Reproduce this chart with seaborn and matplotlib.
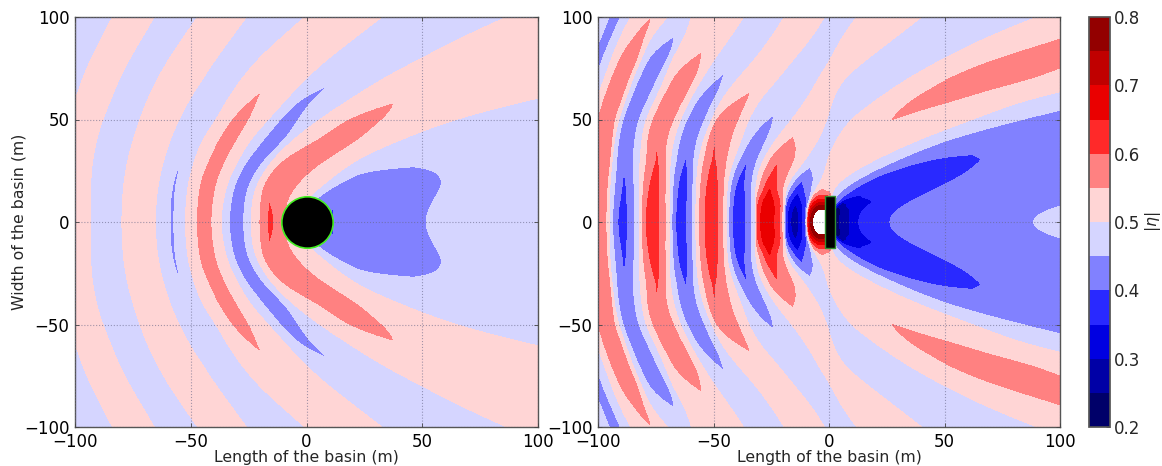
import numpy as np
import matplotlib
matplotlib.use('Agg')
import matplotlib.pyplot as plt
from matplotlib.patches import Rectangle
import seaborn as sns

levels = [0.2, 0.25, 0.3, 0.35, 0.4, 0.45, 0.5, 0.55, 0.6, 0.65, 0.7, 0.75, 0.8]
cbar_ticks = [0.2, 0.3, 0.4, 0.5, 0.6, 0.7, 0.8]
axis_ticks = [-100, -50, 0, 50, 100]

# distance from the centre line (upper half, the field is mirrored)
rows_y = [0, 5, 10, 15, 20, 25, 30, 40, 50, 60, 70, 80, 90, 100]

# left panel: x of each crest, trough and 0.5 crossing along every row
left_x = [
    [-150, -110, -102, -93.5, -86.5, -79.8, -72.5, -65.3, -58, -52.3, -44, -37, -30.3, -23.9, -15.5, -6, -3, 11, 51, 600],
    [-150, -110, -102, -93.5, -86.5, -79.7, -72.4, -65.2, -58, -52.2, -44, -36.8, -30, -23.8, -15.5, -4, -1, 10, 52, 600],
    [-150, -110, -102, -93.5, -86.4, -79.5, -72.2, -65, -57.9, -52, -43.6, -36, -29.5, -23.5, -16.6, -1, 2, 10, 54.4, 600],
    [-150, -110, -101.5, -93.4, -86, -79.2, -71.8, -64.5, -57.6, -51.5, -43, -35.2, -29, -22.5, -16, 3.5, 8, 25, 57.3, 600],
    [-150, -109, -101, -93.2, -85.6, -78.8, -71.3, -63.9, -56.8, -50.9, -42.5, -34, -27.5, -20.8, -15, 9, 16, 35, 60, 600],
    [-150, -109, -101, -92.9, -85, -78.1, -70.6, -62.9, -55.5, -49.7, -40.5, -32, -25, -18, -10.8, 15, 25, 42, 57, 600],
    [-150, -108, -100, -92.5, -84.8, -77.3, -69.6, -61.8, -54.5, -48.4, -38.5, -29.6, -22.2, -15, -6.5, 20, 35, 50, 70, 600],
    [-150, -106, -98, -90.8, -82.8, -74.9, -67, -59, -52, -45.1, -34, -24.6, -13, -6, 12.4, 40, 60, 80, 100, 600],
    [-150, -103, -95, -88.1, -80, -72, -63.6, -55.2, -47, -39, -29, -16.6, -9, 5.5, 20.7, 63, 90, 110, 130, 600],
    [-150, -99.7, -92, -84.5, -76.5, -68.6, -59.6, -50.6, -42, -34, -22.5, -8.7, -1.7, 19, 42, 97, 120, 140, 160, 600],
    [-150, -96.8, -89, -80.9, -72.6, -64.3, -54.6, -44.8, -36, -28, -14, -0.5, 15, 33, 70, 140, 160, 180, 200, 600],
    [-150, -92.9, -85, -76.3, -67.8, -59.2, -49, -39, -30, -20.5, -6, 9.5, 30, 50, 110, 200, 220, 240, 260, 600],
    [-150, -88.4, -80, -71, -62, -53.2, -43, -32.5, -21, -10.8, 4, 21, 44, 67, 150, 280, 300, 320, 340, 600],
    [-150, -83.8, -75, -65.8, -56.4, -47, -36.5, -26, -13, -0.7, 15, 32.5, 58, 86.5, 200, 380, 400, 420, 440, 600],
]

# left panel: field values on the columns that change along the row
left_streak = [.443, .443, .443, .444, .445, .447, .452, .47, .47, .47, .47, .47, .47, .47]
left_lobe1 = [.58, .58, .58, .58, .58, .578, .576, .576, .57, .553, .54, .53, .52, .51]
left_trough = [.405, .405, .405, .405, .405, .404, .403, .403, .424, .439, .455, .47, .47, .47]
left_lobe3 = [.612, .606, .598, .597, .597, .597, .597, .577, .5645, .545, .535, .525, .515, .51]
left_edge = [.45, .45, .45, .45, .45, .45, .47, .47, .47, .47, .47, .47, .47, .47]
left_wake = [.3985, .3985, .402, .42, .43, .44, .465, .47, .47, .47, .47, .47, .47, .47]
left_back = [.45, .45, .45, .45, .45, .454, .47, .47, .47, .47, .47, .47, .47, .47]

# right panel: x of each crest, trough and crossing along every row
right_x = [
    [-125, -120, -112, -98.5, -95.2, -89.5, -82.1, -77, -69.1, -64.5, -57.6, -51, -44.6, -39.5, -32, -27.5, -19.8, -15, -9.7, -5.2, 0, .8, 1, 1.2, 1.35, 1.5, 4.5, 12.7, 24.2, 84.4],
    [-125, -120, -112, -98.5, -95.2, -89.5, -82.1, -77, -69.1, -64.4, -57.6, -51, -44.5, -39.5, -32, -27.5, -19.7, -15, -9.6, -5.2, 0, .8, 1, 1.2, 1.35, 1.5, 4.5, 12.5, 27, 90],
    [-125, -120, -111, -98.4, -95.1, -89.2, -82.1, -76.5, -69.1, -64, -57.6, -50.8, -44.4, -39.5, -32, -26.5, -19.5, -14.5, -8.8, -4.5, -1, .5, .8, 1, 1.2, 1.5, 6, 16, 34.5, 103],
    [-125, -120, -110, -98, -95, -88.8, -82.1, -76, -69.1, -63.5, -57.5, -50.6, -44.2, -39, -31.8, -26, -19, -14, -6.5, -4, -1, 1, 4, 10, 14, 20, 24, 32, 44, 130],
    [-125, -120, -109, -97.5, -94.8, -88.5, -82.1, -75.5, -69.1, -63, -57.3, -50.5, -44, -38.5, -31.5, -25, -18, -12.5, -3, -1.5, .5, 3.5, 11, 15.5, 19, 28, 34, 44, 54, 150],
    [-125, -120, -108.5, -97, -94.3, -89, -82, -74.8, -69, -62.5, -57, -50.2, -43, -37, -30.5, -23.5, -14, -9.5, -1.5, 2, 6, 11, 19, 25, 30, 40, 46, 54, 61, 170],
    [-125, -120, -108, -96.5, -93.9, -89.3, -81.8, -74, -68.8, -62, -56.6, -50, -41.5, -35.5, -28.7, -22.6, -10.5, -6, -1, 6, 10, 19, 29, 43, 48, 55, 58, 62, 66, 190],
    [-125, -120, -106, -95.5, -93, -88.5, -81.1, -75.5, -67.4, -61.5, -54.4, -49.5, -38, -31, -23.3, -16.5, -4.5, -1, 3, 18, 22, 38, 50, 70, 75, 80, 85, 90, 95, 210],
    [-115, -110, -104, -95.6, -91.2, -87, -79.5, -72, -64.5, -58, -50.8, -46.6, -35, -25.5, -16, -10, -.8, 4, 9, 26, 30, 62, 83, 105, 110, 115, 120, 125, 130, 250],
    [-113, -108, -100.5, -92.7, -88, -83, -75, -67.5, -60.2, -53.5, -46.5, -36.5, -30, -19, -9.5, -4, 1.5, 11, 21, 43, 47, 85, 120, 140, 145, 150, 155, 160, 165, 300],
    [-108, -103, -97.3, -89.6, -85, -78.8, -71, -63, -55, -47, -39.5, -29, -22, -13, -4.6, 1, 6, 20, 34, 63, 68, 125, 160, 180, 185, 190, 195, 200, 205, 350],
    [-105.5, -100.5, -94.1, -85.5, -81.1, -73.4, -67.7, -56.5, -49.4, -41, -31.5, -23, -15, -7, 1, 8, 17, 33, 50, 82, 90, 170, 200, 220, 225, 230, 235, 240, 245, 400],
    [-101.5, -96.5, -90.5, -82, -77.5, -66.7, -62.3, -52, -42.9, -35, -25, -16, -7.5, -1, 5.5, 17, 28.6, 48, 68, 121, 130, 230, 260, 280, 285, 290, 295, 300, 305, 450],
    [-98, -93, -85.9, -77, -70, -65, -59.5, -48, -37, -28, -19.3, -10.5, -2, 5, 12, 25, 40, 65, 90, 150, 160, 300, 330, 350, 355, 360, 365, 370, 375, 500],
]

# right panel: field values on the crest and trough columns
right_t0 = [.42, .42, .42, .42, .42, .42, .42, .42, .42, .42, .42, .42, .42, .42]
right_c0 = [.597, .597, .597, .597, .597, .597, .597, .595, .59, .598, .598, .592, .565, .548]
right_t1 = [.364, .368, .378, .385, .392, .4, .403, .403, .4035, .4035, .4035, .402, .45, .47]
right_c1 = [.648, .647, .64, .633, .625, .615, .602, .597, .597, .597, .59, .555, .53, .52]
right_t2 = [.352, .352, .355, .36, .365, .38, .397, .405, .405, .415, .445, .46, .47, .47]
right_c2 = [.648, .648, .645, .64, .63, .62, .605, .597, .595, .557, .53, .52, .52, .52]
right_t3 = [.345, .345, .35, .36, .375, .388, .4, .42, .445, .47, .47, .47, .47, .47]
right_c3 = [.695, .695, .685, .655, .63, .605, .595, .552, .53, .525, .52, .52, .52, .52]
right_t4 = [.262, .27, .31, .355, .4, .44, .47, .48, .485, .485, .48, .47, .47, .47]
right_c4a = [.9, .84, .68, .55, .52, .52, .52, .535, .55, .565, .572, .565, .568, .575]
right_c4b = [.9, .84, .68, .53, .52, .52, .52, .53, .545, .56, .568, .562, .565, .57]
right_q2 = [.4, .4, .4, .4, .4, .4, .4, .42, .43, .44, .46, .47, .47, .47]
right_q3 = [.35, .35, .35, .375, .39, .395, .395, .42, .43, .44, .46, .47, .47, .47]
right_q4 = [.15, .17, .32, .37, .38, .385, .392, .42, .43, .44, .46, .47, .47, .47]
right_q5 = [.25, .26, .335, .375, .385, .388, .395, .42, .43, .44, .46, .47, .47, .47]
right_q6 = [.35, .35, .35, .38, .39, .39, .398, .42, .43, .44, .46, .47, .47, .47]
right_q7 = [.4, .4, .4, .4, .4, .4, .403, .42, .43, .44, .46, .47, .47, .47]

# obstacles: cylinder seen from above (marker) and plate
plate_x = [-1.7, 2.6]
plate_y = [-12.7, 12.7]


def const(v):
    return [v] * len(rows_y)


def mirror(table):
    table = np.array(table, dtype=float)
    return np.vstack([table[:0:-1], table])


def round_crests(x, z, first, last, power=0.75, n=6):
    # rounder profile between a 0.5 crossing and its crest, flatter on the strong crests
    xs, zs = [x[:, 0]], [z[:, 0]]
    for j in range(x.shape[1] - 1):
        front_a = np.all(z[:, j] == 0.5)
        front_b = np.all(z[:, j + 1] == 0.5)
        if first <= j < last and (front_a or front_b):
            crest = z[:, j + 1] if front_a else z[:, j]
            pw = np.where(np.abs(crest - 0.5) > 0.17, 0.42, power)
            for i in range(1, n):
                t = i / n
                if front_a:
                    xs.append(x[:, j] + (x[:, j + 1] - x[:, j]) * t)
                    zs.append(z[:, j] + (z[:, j + 1] - z[:, j]) * t ** pw)
                else:
                    xs.append(x[:, j + 1] + (x[:, j] - x[:, j + 1]) * (1 - t))
                    zs.append(z[:, j + 1] + (z[:, j] - z[:, j + 1]) * (1 - t) ** pw)
        xs.append(x[:, j + 1])
        zs.append(z[:, j + 1])
    return np.column_stack(xs), np.column_stack(zs)


def smooth_rows(y, table, y_new, sigma):
    # put the rows on an even y step, then take out the wobble of hand reading
    out = np.zeros((len(y_new), table.shape[1]))
    for j in range(table.shape[1]):
        col = np.interp(y_new, y, table[:, j])
        # carry on in a straight line past the top and bottom rows
        over = y_new > y[-1]
        slope = (table[-1, j] - table[-2, j]) / (y[-1] - y[-2])
        col[over] = table[-1, j] + slope * (y_new[over] - y[-1])
        col[y_new < y[0]] = col[y_new > y[-1]][::-1]
        out[:, j] = col
    half = int(4 * sigma)
    kernel = np.exp(-0.5 * (np.arange(-half, half + 1) / sigma) ** 2)
    kernel /= kernel.sum()
    for j in range(out.shape[1]):
        pad = np.concatenate([np.full(half, out[0, j]), out[:, j], np.full(half, out[-1, j])])
        out[:, j] = np.convolve(pad, kernel, mode='valid')
    return out


left_z = np.column_stack([
    const(.47), const(.5), const(.53), const(.5), const(.47), const(.5), const(.53), const(.5),
    left_streak, const(.5), left_lobe1, const(.5), left_trough, const(.5), left_lobe3, const(.5),
    left_edge, left_wake, left_back, const(.475),
])
right_z = np.column_stack([
    const(.49), right_t0, const(.5), right_c0, const(.5), right_t1, const(.5), right_c1, const(.5),
    right_t2, const(.5), right_c2, const(.5), right_t3, const(.5), right_c3, const(.5), right_t4, const(.5),
    right_c4a, right_c4b, const(.5), const(.45), right_q2, right_q3, right_q4, right_q5, right_q6, right_q7,
    const(.45),
])
# far column so the mesh runs past both axes edges
right_x_full = np.column_stack([const(-400), np.array(right_x), const(900)])
right_z_full = np.column_stack([const(.49), right_z, const(.47)])
# only the wave train left of the plate gets the rounder profile
right_x_full, right_z_full = round_crests(right_x_full, right_z_full, 3, 22)

y_rows = np.array(rows_y, dtype=float)
y_full = np.concatenate([-y_rows[:0:-1], y_rows])
y_even = np.arange(-130.0, 130.5, 0.5)

sns.set_theme(style='white')
plt.rcParams['font.family'] = ['DejaVu Sans']
cmap = sns.color_palette('seismic', as_cmap=True)

fig = plt.figure(figsize=(11.62, 4.66), dpi=100)
W, H = 1162.0, 466.0
ax1 = fig.add_axes([75 / W, (466 - 427) / H, 463 / W, 410 / H])
ax2 = fig.add_axes([598 / W, (466 - 427) / H, 462 / W, 410 / H])
cax = fig.add_axes([1089 / W, (466 - 427) / H, 21 / W, 410 / H])

for ax, xt, zt in [(ax1, np.array(left_x, dtype=float), left_z), (ax2, right_x_full, right_z_full)]:
    # sigma counts rows of the 0.5 m step
    X = smooth_rows(y_full, mirror(xt), y_even, 8)
    Z = smooth_rows(y_full, mirror(zt), y_even, 3)
    Y = np.tile(y_even[:, None], (1, X.shape[1]))
    cs = ax.contourf(X, Y, Z, levels=levels, cmap=cmap, zorder=1)
    ax.set_xlim(-100, 100)
    ax.set_ylim(-100, 100)
    ax.set_xticks(axis_ticks)
    ax.set_yticks(axis_ticks)
    ax.grid(True, color='#666688', linestyle=':', linewidth=0.8, alpha=0.6, zorder=2)
    ax.set_axisbelow(False)
    ax.tick_params(direction='in', length=3, width=0.6, labelsize=12, pad=4, color='#444444',
                   bottom=True, left=True, top=True, right=True, labelcolor='black')
    ax.set_xlabel('Length of the basin (m)', fontsize=11.3, labelpad=-0.5)
    for s in ax.spines.values():
        s.set_color('#555555')
        s.set_linewidth(1.0)

ax1.set_ylabel('Width of the basin (m)', fontsize=11.3, labelpad=-2)

ax1.scatter([0], [0], s=37.0 ** 2, facecolor='black', edgecolor='#44ee22', linewidth=1.2, zorder=5)
ax2.add_patch(Rectangle((plate_x[0], plate_y[0]), plate_x[1] - plate_x[0], plate_y[1] - plate_y[0],
                        facecolor='black', edgecolor='#2f8f2f', linewidth=1.0, zorder=5))

cb = fig.colorbar(cs, cax=cax, ticks=cbar_ticks)
cb.ax.tick_params(labelsize=12, direction='in', length=3, width=0.6, pad=3, color='#444444')
cb.ax.set_yticklabels(['%.1f' % t for t in cbar_ticks])
cb.set_label(r'$|\eta|$', fontsize=11.3, labelpad=2)
cb.outline.set_edgecolor('#555555')

fig.savefig('out.png', dpi=100)
